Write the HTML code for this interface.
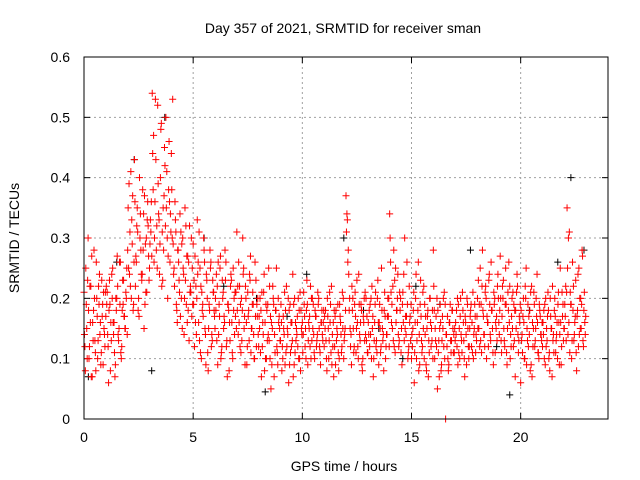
<!DOCTYPE html>
<html><head><meta charset="utf-8"><style>
body{margin:0;background:#fff;}
svg{display:block;font-family:"Liberation Sans",sans-serif;}
</style></head><body>
<svg id="chart" width="640" height="480">
<text x="343" y="33" font-size="14" text-anchor="middle">Day 357 of 2021, SRMTID for receiver sman</text>
<text x="344" y="471" font-size="14" text-anchor="middle">GPS time / hours</text>
<text x="19" y="238" font-size="14" text-anchor="middle" transform="rotate(-90 19 238)">SRMTID / TECUs</text>
<g id="grid"></g><g id="ticks"></g><g id="marks"></g>
<rect x="84" y="57" width="524" height="362" fill="none" stroke="#000" stroke-width="1"/>
</svg>
<script>
const xTicks=[0,5,10,15,20];
const yTicks=[0,0.1,0.2,0.3,0.4,0.5,0.6];
const yTickLabels=["0","0.1","0.2","0.3","0.4","0.5","0.6"];
const redY=[
.21,.08,.15,.30,.12,.22,.07,.18,.13,.26,.10,.19,.16,.23,.09,.14,
.17,.21,.06,.19,.13,.25,.16,.09,.20,.14,.26,.11,.18,.23,.15,.20,
.28,.39,.22,.33,.18,.43,.27,.35,.20,.30,.24,.38,.15,.29,.21,.32,
.25,.31,.54,.47,.36,.28,.52,.33,.40,.22,.35,.45,.50,.30,.38,.26,
.44,.53,.25,.33,.18,.28,.21,.31,.15,.24,.35,.19,.27,.13,.22,.17,
.29,.12,.22,.33,.16,.25,.10,.19,.28,.14,.23,.08,.18,.26,.13,.21,
.15,.24,.09,.19,.27,.12,.21,.16,.26,.07,.18,.13,.23,.10,.20,.17,
.31,.14,.22,.11,.18,.25,.09,.16,.21,.13,.27,.15,.19,.10,.23,.17,
.12,.20,.07,.16,.24,.10,.18,.14,.22,.05,.15,.19,.11,.25,.09,.17,
.13,.08,.17,.21,.11,.15,.06,.19,.12,.24,.09,.16,.14,.20,.10,.18,
.16,.21,.12,.18,.09,.15,.22,.13,.19,.10,.17,.14,.20,.11,.16,.13,
.12,.18,.08,.15,.21,.11,.14,.07,.17,.13,.19,.10,.16,.12,.20,.14,
.37,.33,.24,.15,.09,.20,.12,.17,.23,.10,.14,.19,.08,.16,.21,.13,
.11,.18,.14,.22,.07,.16,.12,.20,.09,.15,.25,.13,.18,.10,.14,.17,
.34,.21,.15,.28,.11,.18,.24,.13,.20,.09,.16,.30,.14,.19,.12,.17,
.10,.15,.06,.20,.13,.26,.09,.17,.12,.22,.14,.08,.18,.11,.16,.13,
.28,.10,.17,.05,.13,.19,.09,.15,.21,.00,.12,.08,.16,.11,.18,.14,
.13,.18,.09,.15,.20,.11,.16,.07,.14,.19,.10,.17,.12,.21,.15,.11,
.17,.23,.12,.19,.28,.14,.21,.10,.16,.24,.13,.18,.09,.20,.15,.22,
.16,.27,.11,.20,.13,.25,.09,.18,.22,.12,.15,.19,.07,.21,.14,.17,
.06,.14,.20,.10,.25,.13,.17,.08,.22,.12,.19,.15,.24,.11,.18,.14,
.12,.18,.09,.15,.21,.11,.17,.07,.14,.20,.13,.10,.16,.25,.12,.19,
.15,.22,.35,.30,.11,.19,.26,.13,.17,.08,.24,.14,.20,.28,.12,.16];
const redY2=[
.14,.25,.10,.18,.22,.07,.16,.28,.11,.20,.13,.24,.09,.17,.21,.12,
.22,.14,.18,.08,.24,.16,.11,.20,.27,.13,.19,.10,.23,.17,.15,.25,
.35,.24,.41,.29,.19,.36,.26,.31,.17,.34,.23,.28,.37,.21,.33,.27,
.29,.36,.44,.26,.53,.32,.39,.24,.48,.31,.28,.42,.35,.20,.46,.34,
.38,.29,.22,.31,.16,.26,.34,.20,.30,.14,.23,.27,.18,.32,.21,.25,
.19,.27,.14,.24,.31,.11,.21,.17,.26,.09,.20,.15,.28,.12,.23,.18,
.20,.13,.26,.17,.10,.23,.15,.28,.12,.19,.08,.22,.16,.25,.14,.21,
.18,.26,.12,.20,.30,.15,.22,.09,.17,.24,.11,.19,.14,.26,.12,.20,
.17,.11,.21,.14,.08,.19,.13,.25,.10,.16,.22,.07,.18,.12,.20,.15,
.19,.12,.15,.09,.22,.14,.18,.11,.16,.07,.20,.13,.17,.10,.21,.15,
.11,.19,.15,.23,.13,.17,.10,.20,.14,.18,.12,.21,.15,.09,.18,.16,
.17,.13,.20,.10,.16,.22,.12,.18,.09,.15,.11,.19,.14,.21,.10,.15,
.31,.26,.18,.12,.22,.15,.19,.11,.16,.24,.13,.18,.10,.20,.14,.17,
.16,.12,.20,.15,.10,.19,.13,.23,.16,.11,.18,.14,.21,.12,.17,.20,
.30,.16,.22,.12,.25,.18,.14,.21,.11,.19,.24,.15,.17,.10,.22,.13,
.14,.18,.11,.24,.16,.08,.19,.13,.21,.10,.17,.15,.07,.20,.12,.18,
.22,.15,.12,.18,.07,.16,.13,.20,.10,.14,.17,.09,.19,.13,.15,.11,
.16,.12,.19,.10,.14,.21,.13,.17,.09,.15,.12,.18,.16,.10,.19,.14,
.20,.15,.25,.11,.18,.14,.22,.17,.12,.19,.26,.15,.21,.11,.17,.24,
.14,.20,.17,.23,.12,.19,.15,.26,.10,.17,.21,.13,.18,.24,.11,.16,
.18,.11,.16,.22,.09,.19,.14,.21,.07,.15,.12,.20,.16,.10,.17,.13,
.16,.10,.20,.13,.18,.08,.15,.22,.11,.17,.14,.19,.09,.16,.21,.13,
.19,.13,.25,.16,.21,.10,.18,.14,.23,.17,.12,.20,.15,.27,.18,.14];
const redY3=[
.12,.19,.23,.10,.16,.27,.13,.20,.08,.17,.22,.14,.11,.19,.15,.21,
.19,.12,.23,.16,.20,.14,.07,.18,.22,.15,.26,.12,.19,.17,.21,.14,
.25,.31,.20,.37,.26,.22,.32,.18,.40,.28,.24,.34,.19,.30,.36,.23,
.33,.27,.38,.30,.43,.25,.34,.29,.49,.23,.37,.32,.41,.27,.36,.31,
.30,.24,.36,.19,.28,.23,.17,.29,.25,.20,.32,.16,.26,.21,.30,.19,
.23,.16,.20,.26,.13,.22,.18,.30,.15,.24,.11,.19,.25,.14,.21,.17,
.18,.22,.14,.25,.11,.20,.17,.23,.13,.19,.16,.24,.11,.18,.21,.15,
.22,.16,.19,.13,.24,.17,.20,.12,.18,.23,.15,.21,.10,.17,.19,.14,
.15,.18,.12,.21,.16,.10,.19,.13,.17,.09,.20,.14,.18,.11,.16,.13,
.16,.10,.14,.18,.12,.20,.09,.16,.13,.19,.11,.15,.12,.18,.08,.14,
.14,.17,.10,.19,.16,.12,.20,.15,.11,.17,.13,.19,.12,.16,.14,.18,
.15,.10,.17,.13,.19,.09,.16,.12,.18,.14,.08,.17,.11,.15,.13,.18,
.34,.28,.20,.14,.18,.11,.21,.15,.12,.19,.16,.09,.17,.13,.20,.11,
.14,.19,.10,.17,.13,.21,.11,.16,.19,.12,.15,.08,.17,.14,.20,.12,
.26,.19,.13,.23,.16,.20,.12,.18,.15,.21,.13,.17,.26,.11,.16,.19,
.12,.21,.16,.10,.18,.14,.23,.11,.15,.19,.09,.17,.13,.20,.15,.10,
.18,.13,.20,.11,.15,.08,.17,.12,.19,.14,.10,.16,.13,.18,.11,.15,
.14,.20,.11,.17,.13,.18,.10,.16,.20,.12,.15,.19,.11,.14,.17,.13,
.15,.19,.13,.22,.17,.12,.20,.16,.23,.14,.18,.11,.19,.16,.13,.20,
.18,.13,.22,.15,.19,.11,.21,.16,.14,.20,.12,.18,.15,.22,.13,.19,
.13,.17,.10,.20,.15,.12,.18,.09,.16,.21,.13,.17,.11,.19,.14,.16,
.14,.19,.12,.17,.10,.20,.15,.13,.18,.11,.16,.21,.14,.09,.17,.15,
.17,.21,.14,.31,.19,.13,.22,.16,.11,.18,.25,.15,.19,.13,.21,.17];
const blackX=[0.2,2.3,3.7,3.1,8.3,10.2,11.9,15.2,19.5,22.3,22.9,17.7,21.7,5.5,1.5,7.9,13.5,14.6,16.3,18.9,20.4,9.3,6.4,12.8];
const blackY=[.07,.43,.50,.08,.045,.24,.30,.22,.04,.40,.28,.28,.26,.30,.26,.20,.15,.10,.19,.12,.18,.17,.22,.18];
const X0=84,X1=608,Y0=419,Y1=57,XMAX=24,YMAX=0.6;
const sx=v=>X0+(X1-X0)*v/XMAX, sy=v=>Y0-(Y0-Y1)*v/YMAX;
const NS="http://www.w3.org/2000/svg";
const grid=document.getElementById('grid'),ticks=document.getElementById('ticks'),marks=document.getElementById('marks');
function mk(t,a,p){const e=document.createElementNS(NS,t);for(const k in a)e.setAttribute(k,a[k]);p.appendChild(e);return e;}
xTicks.forEach(v=>{
 const x=sx(v);
 const g=mk('line',{x1:x,x2:x,y1:Y1,y2:Y0,stroke:'#a0a0a0','stroke-dasharray':'2,3'},grid);
 
 
 mk('line',{x1:x,x2:x,y1:Y0,y2:Y0-6,stroke:'#000'},ticks);
 mk('line',{x1:x,x2:x,y1:Y1,y2:Y1+6,stroke:'#000'},ticks);
 const t=mk('text',{x:x,y:Y0+23,'font-size':14,'text-anchor':'middle'},ticks);t.textContent=v;
 
 
});
yTicks.forEach((v,i)=>{
 const y=sy(v);
 const g=mk('line',{x1:X0,x2:X1,y1:y,y2:y,stroke:'#a0a0a0','stroke-dasharray':'2,3'},grid);
 
 
 mk('line',{x1:X0,x2:X0+6,y1:y,y2:y,stroke:'#000'},ticks);
 mk('line',{x1:X1,x2:X1-6,y1:y,y2:y,stroke:'#000'},ticks);
 const t=mk('text',{x:X0-14,y:y+5,'font-size':14,'text-anchor':'end'},ticks);t.textContent=yTickLabels[i];
 
 
});
function plus(x,y,c,name){
 const p=mk('path',{d:`M${x-3.5},${y}h7M${x},${y-3.5}v7`,stroke:c,'stroke-width':1,fill:'none'},marks);
 
 
}
blackX.forEach((v,i)=>plus(sx(v),sy(blackY[i]),'#000','black-point'));
const step=23/redY.length;
redY.forEach((v,i)=>plus(sx(i*step),sy(v),'#ff0000','red-point'));
redY2.forEach((v,i)=>plus(sx(i*step+step/3),sy(v),'#ff0000','red-point'));
redY3.forEach((v,i)=>plus(sx(i*step+2*step/3),sy(v),'#ff0000','red-point'));
</script>
</body></html>
